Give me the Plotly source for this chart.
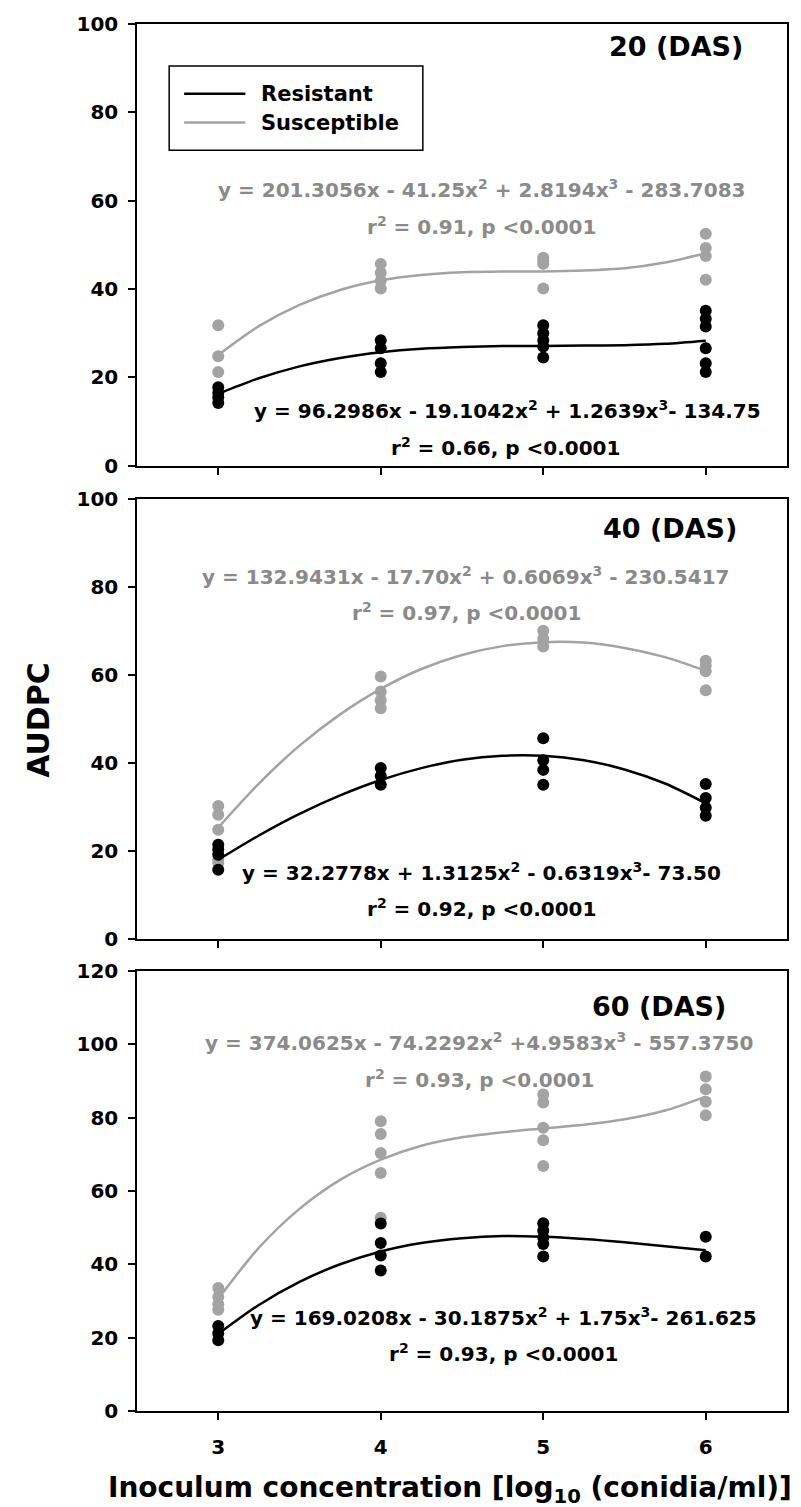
import plotly.graph_objects as go

# ---------------- data ----------------
x_fit = [3, 3.25, 3.5, 3.75, 4, 4.25, 4.5, 4.75, 5, 5.25, 5.5, 5.75, 6]

# 20 DAS
res20_x = [3, 3, 3, 3, 4, 4, 4, 4, 5, 5, 5, 5, 5, 6, 6, 6, 6, 6, 6]
res20_y = [17.8, 16.5, 15.5, 14.2, 28.4, 26.6, 23.2, 21.2, 31.8, 30.0, 28.4, 27.0, 24.5, 35.1, 33.3, 31.5, 26.6, 23.2, 21.2]
sus20_x = [3, 3, 3, 4, 4, 4, 4, 5, 5, 5, 5, 6, 6, 6, 6]
sus20_y = [31.8, 24.8, 21.2, 45.7, 43.7, 41.9, 40.1, 47.1, 46.4, 45.7, 40.1, 52.5, 49.3, 47.5, 42.1]
res20_fit = [16.3, 19.8, 22.5, 24.4, 25.7, 26.5, 26.9, 27.1, 27.1, 27.2, 27.3, 27.6, 28.3]
sus20_fit = [25.1, 31.6, 36.4, 39.8, 42.0, 43.2, 43.8, 44.0, 44.0, 44.2, 44.7, 46.0, 48.1]

# 40 DAS
res40_x = [3, 3, 3, 3, 4, 4, 4, 5, 5, 5, 5, 6, 6, 6, 6]
res40_y = [21.5, 20.4, 19.2, 15.8, 38.9, 37.1, 35.1, 45.7, 40.7, 38.5, 35.1, 35.3, 32.1, 29.9, 28.1]
sus40_x = [3, 3, 3, 3, 3, 4, 4, 4, 4, 5, 5, 5, 6, 6, 6, 6]
sus40_y = [30.3, 28.3, 24.9, 18.1, 17.4, 59.7, 56.3, 54.3, 52.5, 70.1, 68.3, 66.5, 63.3, 62.2, 60.9, 56.6]
res40_fit = [18.1, 23.6, 28.5, 32.7, 36.2, 38.9, 40.8, 41.7, 41.7, 40.7, 38.6, 35.4, 30.9]
sus40_fit = [25.4, 35.4, 44.0, 51.1, 56.9, 61.4, 64.6, 66.6, 67.5, 67.4, 66.2, 64.1, 61.0]

# 60 DAS
res60_x = [3, 3, 3, 4, 4, 4, 4, 5, 5, 5, 5, 5, 6, 6]
res60_y = [23.2, 21.2, 19.3, 51.1, 45.8, 42.4, 38.3, 51.2, 49.2, 47.3, 45.5, 42.1, 47.5, 42.1]
sus60_x = [3, 3, 3, 3, 4, 4, 4, 4, 4, 5, 5, 5, 5, 5, 6, 6, 6, 6]
sus60_y = [33.5, 31.1, 29.1, 27.6, 79.0, 75.5, 70.3, 64.9, 52.7, 86.3, 84.1, 77.2, 73.8, 66.8, 91.2, 87.7, 84.3, 80.6]
res60_fit = [21.0, 28.9, 35.2, 40.0, 43.5, 45.8, 47.1, 47.7, 47.5, 46.9, 46.0, 44.9, 43.8]
sus60_fit = [30.6, 44.5, 55.1, 63.0, 68.5, 72.3, 74.6, 76.0, 77.0, 78.0, 79.5, 81.9, 85.7]

panel_titles = ["20 (DAS)", "40 (DAS)", "60 (DAS)"]
sus_eqs = ["y = 201.3056x - 41.25x<sup>2</sup> + 2.8194x<sup>3</sup> - 283.7083",
           "y = 132.9431x - 17.70x<sup>2</sup> + 0.6069x<sup>3</sup> - 230.5417",
           "y = 374.0625x - 74.2292x<sup>2</sup> +4.9583x<sup>3</sup> - 557.3750"]
sus_r2 = ["r<sup>2</sup> = 0.91, p <0.0001", "r<sup>2</sup> = 0.97, p <0.0001", "r<sup>2</sup> = 0.93, p <0.0001"]
res_eqs = ["y = 96.2986x - 19.1042x<sup>2</sup> + 1.2639x<sup>3</sup>- 134.75",
           "y = 32.2778x + 1.3125x<sup>2</sup> - 0.6319x<sup>3</sup>- 73.50",
           "y = 169.0208x - 30.1875x<sup>2</sup> + 1.75x<sup>3</sup>- 261.625"]
res_r2 = ["r<sup>2</sup> = 0.66, p <0.0001", "r<sup>2</sup> = 0.92, p <0.0001", "r<sup>2</sup> = 0.93, p <0.0001"]
x_ticks = [3, 4, 5, 6]
legend_names = ["Resistant", "Susceptible"]

# ---------------- style ----------------
BLACK = "#000000"
GREY = "#a3a3a3"
GREY_TXT = "#8a8a8a"
FONT = "DejaVu Sans"

panels = [
    (res20_x, res20_y, sus20_x, sus20_y, res20_fit, sus20_fit),
    (res40_x, res40_y, sus40_x, sus40_y, res40_fit, sus40_fit),
    (res60_x, res60_y, sus60_x, sus60_y, res60_fit, sus60_fit),
]

fig = go.Figure()
for i, (rx, ry, sx, sy, rf, sf) in enumerate(panels):
    xa = "x" if i == 0 else f"x{i+1}"
    ya = "y" if i == 0 else f"y{i+1}"
    fig.add_trace(go.Scatter(x=sx, y=sy, mode="markers", xaxis=xa, yaxis=ya,
                             marker=dict(color=GREY, size=12), showlegend=False))
    fig.add_trace(go.Scatter(x=rx, y=ry, mode="markers", xaxis=xa, yaxis=ya,
                             marker=dict(color=BLACK, size=12), showlegend=False))
    fig.add_trace(go.Scatter(x=x_fit, y=sf, mode="lines", xaxis=xa, yaxis=ya,
                             line=dict(color=GREY, width=2.5, shape="spline", smoothing=0.8),
                             showlegend=False))
    fig.add_trace(go.Scatter(x=x_fit, y=rf, mode="lines", xaxis=xa, yaxis=ya,
                             line=dict(color=BLACK, width=2.5, shape="spline", smoothing=0.8),
                             showlegend=False))

domains = [[0.6815, 1.0], [0.3400, 0.6575], [0.0, 0.3174]]
yranges = [[0, 100], [0, 100], [0, 120]]
axis_common = dict(showline=True, linecolor="black", linewidth=1.5, mirror=True,
                   ticks="outside", ticklen=7, tickwidth=1.5, tickcolor="black",
                   showgrid=False, zeroline=False,
                   tickfont=dict(family=FONT, size=20, color="black", weight="bold"))
layout = {}
for i in range(3):
    xk = "xaxis" if i == 0 else f"xaxis{i+1}"
    yk = "yaxis" if i == 0 else f"yaxis{i+1}"
    ya = "y" if i == 0 else f"y{i+1}"
    xa = "x" if i == 0 else f"x{i+1}"
    layout[xk] = dict(axis_common, range=[2.5, 6.5], domain=[0, 1], anchor=ya,
                      tickvals=x_ticks, showticklabels=(i == 2), ticklabelstandoff=10)
    layout[yk] = dict(axis_common, range=yranges[i], domain=domains[i], anchor=xa,
                      dtick=20, ticklabelstandoff=6)
fig.update_layout(**layout)

# annotations
ann = []
title_pos = [(6.242, 94.8), (6.205, 93.2), (6.137, 110.2)]
sus_eq_pos = [(4.623, 62.6), (4.525, 82.6), (4.605, 100.7)]
sus_r2_pos = [(4.623, 54.3), (4.525, 74.4), (4.605, 90.4)]
res_eq_pos = [(4.777, 12.6), (4.623, 15.2), (4.758, 25.6)]
res_r2_pos = [(4.765, 4.3), (4.623, 7.2), (4.758, 15.8)]
for i in range(3):
    xa = "x" if i == 0 else f"x{i+1}"
    ya = "y" if i == 0 else f"y{i+1}"
    ann.append(dict(x=title_pos[i][0], y=title_pos[i][1], xref=xa, yref=ya, text=panel_titles[i],
                    showarrow=False, xanchor="right", yanchor="middle",
                    font=dict(family=FONT, size=27, color="black", weight="bold")))
    for txt, pos, col in [(sus_eqs[i], sus_eq_pos[i], GREY_TXT), (sus_r2[i], sus_r2_pos[i], GREY_TXT),
                          (res_eqs[i], res_eq_pos[i], BLACK), (res_r2[i], res_r2_pos[i], BLACK)]:
        ann.append(dict(x=pos[0], y=pos[1], xref=xa, yref=ya, text=txt, showarrow=False,
                        xanchor="center", yanchor="middle",
                        font=dict(family=FONT, size=20, color=col, weight="bold")))

# manual legend in panel 1
leg_y = [84.2, 77.7]
leg_cols = [BLACK, GREY]
shapes = [dict(type="rect", xref="x", yref="y", x0=2.698, x1=4.259, y0=71.4, y1=90.5,
               line=dict(color="black", width=1.5), fillcolor="white", layer="above")]
for name, yy, col in zip(legend_names, leg_y, leg_cols):
    shapes.append(dict(type="line", xref="x", yref="y", x0=2.79, x1=3.167, y0=yy, y1=yy,
                       line=dict(color=col, width=2.5), layer="above"))
    ann.append(dict(x=3.253, y=yy, xref="x", yref="y", text=name, showarrow=False,
                    xanchor="left", yanchor="middle",
                    font=dict(family=FONT, size=21, color="black", weight="bold")))

ann.append(dict(x=-0.1515, y=0.498, xref="paper", yref="paper", text="AUDPC", textangle=-90,
                showarrow=False, xanchor="center", yanchor="middle",
                font=dict(family=FONT, size=30, color="black", weight="bold")))
ann.append(dict(x=0.4815, y=-0.0567, xref="paper", yref="paper",
                text="Inoculum concentration [log<sub>10</sub> (conidia/ml)]",
                showarrow=False, xanchor="center", yanchor="middle",
                font=dict(family=FONT, size=28, color="black", weight="bold")))

fig.update_layout(width=801, height=1507, margin=dict(l=137, r=14, t=17, b=96),
                  plot_bgcolor="white", paper_bgcolor="white",
                  annotations=ann, shapes=shapes, showlegend=False)

fig.write_html("out.html")
